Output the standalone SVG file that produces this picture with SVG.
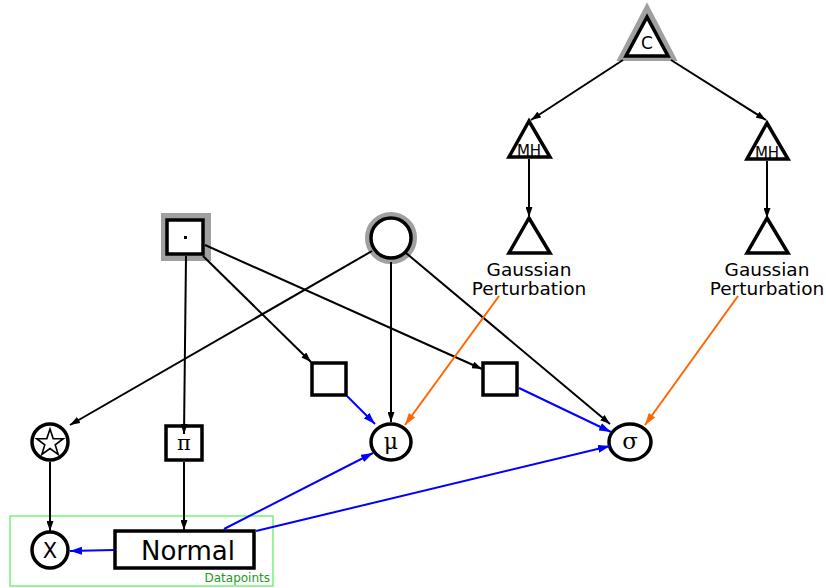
<svg xmlns="http://www.w3.org/2000/svg" width="826" height="588" viewBox="0 0 826 588">
  <defs>
    <marker id="ah" markerWidth="10" markerHeight="7" refX="10" refY="3.5" orient="auto" markerUnits="userSpaceOnUse">
      <path d="M0,0 L10,3.5 L0,7 z" fill="#000"/>
    </marker>
    <marker id="ah-blue" markerWidth="12" markerHeight="8" refX="12" refY="4" orient="auto" markerUnits="userSpaceOnUse">
      <path d="M0,0 L12,4 L0,8 z" fill="#00f"/>
    </marker>
    <marker id="ah-orange" markerWidth="12" markerHeight="8" refX="12" refY="4" orient="auto" markerUnits="userSpaceOnUse">
      <path d="M0,0 L12,4 L0,8 z" fill="#f60"/>
    </marker>
  </defs>
  <style>
    .node { fill: #fff; stroke: #000; stroke-width: 3.5; }
    .halo { fill: #fff; stroke: #a0a0a0; stroke-width: 8; stroke-linejoin: miter; }
    .lbl { font-family: "DejaVu Sans", sans-serif; fill: #000; text-anchor: middle; }
    .greek { font-family: "DejaVu Serif", "Liberation Serif", serif; fill: #000; text-anchor: middle; }
    .e { fill: none; stroke: #000; stroke-width: 2; marker-end: url(#ah); }
    .eb { fill: none; stroke: #00f; stroke-width: 2; marker-end: url(#ah-blue); }
    .eo { fill: none; stroke: #f60; stroke-width: 2; marker-end: url(#ah-orange); }
  </style>

  <rect id="plate" x="10" y="516" width="263" height="70" fill="none" stroke="#55ee55" stroke-width="1.2"/>
  <text x="270" y="582" font-family="DejaVu Sans, sans-serif" font-size="12" fill="#229922" text-anchor="end">Datapoints</text>

  <g id="node-c">
    <polygon class="halo" points="647,11 623,57 671,57"/>
    <polygon class="node" points="647,17 626,56 668,56"/>
    <text class="lbl" x="647" y="49" font-size="17">C</text>
  </g>

  <g id="node-mh-left">
    <polygon class="node" points="529,121 509,157 550,157"/>
    <text class="lbl" x="529" y="156" font-size="15">MH</text>
  </g>
  <g id="node-mh-right">
    <polygon class="node" points="767,123 747,159 788,159"/>
    <text class="lbl" x="767" y="158" font-size="15">MH</text>
  </g>

  <g id="node-gauss-left">
    <polygon class="node" points="529,218 509,253 550,253"/>
    <text class="lbl" x="529" y="276" font-size="18.5">Gaussian</text>
    <text class="lbl" x="529" y="295" font-size="18.5">Perturbation</text>
  </g>
  <g id="node-gauss-right">
    <polygon class="node" points="767,218 747,253 788,253"/>
    <text class="lbl" x="767" y="276" font-size="18.5">Gaussian</text>
    <text class="lbl" x="767" y="295" font-size="18.5">Perturbation</text>
  </g>

  <g id="node-dot">
    <rect x="161" y="213" width="50" height="48" fill="#a0a0a0"/>
    <rect class="node" x="167" y="220" width="36" height="34"/>
    <rect x="184" y="236" width="3" height="3" fill="#000"/>
  </g>

  <g id="node-circle">
    <circle cx="391" cy="238" r="23" fill="#fff" stroke="#a0a0a0" stroke-width="6"/>
    <circle class="node" cx="391" cy="238" r="20"/>
  </g>

  <g id="node-star">
    <circle class="node" cx="50" cy="442" r="18"/>
    <polygon points="50,429 53.2,438.6 63.3,438.7 55.2,444.8 58.2,454.4 50,448.5 41.8,454.4 44.8,444.8 36.7,438.7 46.8,438.6" fill="none" stroke="#000" stroke-width="1.6" stroke-linejoin="miter"/>
  </g>

  <g id="node-pi">
    <rect class="node" x="166" y="426" width="36" height="34"/>
    <text class="greek" x="184" y="450" font-size="21">π</text>
  </g>

  <g id="node-sq1">
    <rect class="node" x="312" y="363" width="34" height="32"/>
  </g>
  <g id="node-sq2">
    <rect class="node" x="483" y="363" width="34" height="32"/>
  </g>

  <g id="node-mu">
    <ellipse class="node" cx="391" cy="442" rx="20" ry="18"/>
    <text class="greek" x="391" y="449" font-size="22">μ</text>
  </g>

  <g id="node-sigma">
    <ellipse class="node" cx="630" cy="442" rx="21" ry="18"/>
    <text class="greek" x="630" y="449" font-size="23">σ</text>
  </g>

  <g id="node-x">
    <circle class="node" cx="50" cy="550" r="18"/>
    <text class="lbl" x="50" y="558" font-size="21">X</text>
  </g>

  <g id="node-normal">
    <rect class="node" x="115" y="531" width="139" height="37"/>
    <text class="lbl" x="188" y="560" font-size="26">Normal</text>
  </g>

  <g id="edges">
    <line class="e" x1="623" y1="60" x2="531" y2="120"/>
    <line class="e" x1="671" y1="60" x2="766" y2="120"/>
    <line class="e" x1="529" y1="159" x2="529" y2="217"/>
    <line class="e" x1="767" y1="161" x2="767" y2="218"/>
    <line class="e" x1="186" y1="256" x2="184" y2="434"/>
    <line class="e" x1="203" y1="256" x2="311" y2="362"/>
    <line class="e" x1="205" y1="245" x2="482" y2="369"/>
    <line class="e" x1="372" y1="251" x2="70" y2="425"/>
    <line class="e" x1="391" y1="262" x2="391" y2="422"/>
    <line class="e" x1="406" y1="253" x2="610" y2="424"/>
    <line class="e" x1="50" y1="462" x2="50" y2="531"/>
    <line class="e" x1="184" y1="462" x2="184" y2="530"/>
    <line class="eb" x1="114" y1="550" x2="70" y2="551"/>
    <line class="eb" x1="224" y1="529" x2="373" y2="453"/>
    <line class="eb" x1="256" y1="531" x2="610" y2="446"/>
    <line class="eb" x1="347" y1="396" x2="375" y2="424"/>
    <line class="eb" x1="519" y1="388" x2="611" y2="432"/>
    <line class="eo" x1="499" y1="296" x2="405" y2="425"/>
    <line class="eo" x1="738" y1="296" x2="645" y2="425"/>
  </g>
</svg>
